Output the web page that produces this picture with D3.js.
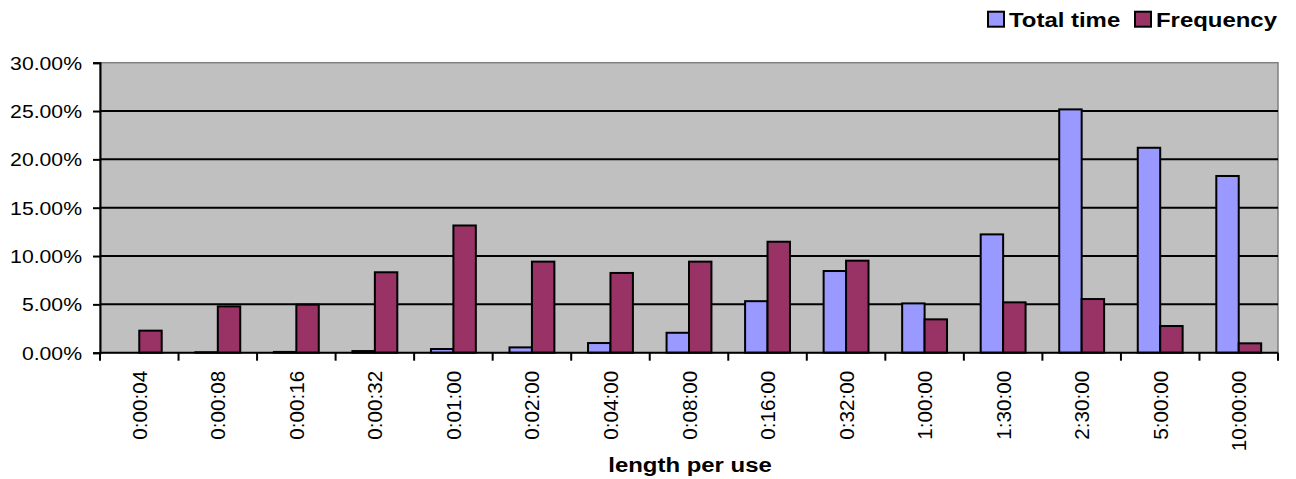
<!DOCTYPE html>
<html>
<head>
<meta charset="utf-8">
<script src="https://cdn.jsdelivr.net/npm/d3@7"></script>
<style>
  html, body { margin: 0; padding: 0; background: #ffffff; }
  svg { display: block; }
  text { font-family: Arial, "Liberation Sans", sans-serif; fill: #000; }
</style>
</head>
<body>
<svg id="chart" width="1296" height="479"></svg>
<script>
const categories = ["0:00:04","0:00:08","0:00:16","0:00:32","0:01:00","0:02:00","0:04:00","0:08:00","0:16:00","0:32:00","1:00:00","1:30:00","2:30:00","5:00:00","10:00:00"];
const seriesNames = ["Total time","Frequency"];
const totalTime = [0, 0.05, 0.08, 0.17, 0.38, 0.55, 1.0, 2.06, 5.33, 8.45, 5.1, 12.24, 25.17, 21.2, 18.28];
const frequency = [2.28, 4.79, 4.97, 8.32, 13.16, 9.42, 8.25, 9.42, 11.48, 9.52, 3.45, 5.21, 5.55, 2.76, 0.97];
const yTicks = [0, 5, 10, 15, 20, 25, 30];
const colors = ["#9999FF", "#993366"];
const xTitle = "length per use";

(function () {
const svg = d3.select("#chart");
const pLeft = 100, pRight = 1278, pTop = 62.7, pBottom = 352.7;
const sx = 1.14;

const x0 = d3.scaleBand().domain(categories).range([pLeft, pRight]).padding(0);
const bw = x0.bandwidth();
const x1 = d3.scaleBand().domain(seriesNames).range([bw * 1.5 / 7, bw * (1 - 1.5 / 7)]).padding(0);
const y = d3.scaleLinear().domain([0, 30]).range([pBottom, pTop]);

// plot area
svg.append("rect").attr("x", pLeft).attr("y", pTop).attr("width", pRight - pLeft).attr("height", pBottom - pTop)
  .attr("fill", "#C0C0C0").attr("stroke", "#808080").attr("stroke-width", 1.5);

// gridlines
svg.append("g").selectAll("line").data(yTicks.filter(d => d > 0 && d < 30)).join("line")
  .attr("x1", pLeft).attr("x2", pRight).attr("y1", d => y(d)).attr("y2", d => y(d))
  .attr("stroke", "#000").attr("stroke-width", 2);

// bars
const data = categories.map((c, i) => ({ c, vals: [ {s: seriesNames[0], v: totalTime[i]}, {s: seriesNames[1], v: frequency[i]} ] }));
const groups = svg.append("g").selectAll("g").data(data).join("g")
  .attr("transform", d => `translate(${x0(d.c)},0)`);
groups.selectAll("rect").data(d => d.vals).join("rect")
  .attr("x", d => x1(d.s)).attr("width", x1.bandwidth())
  .attr("y", d => y(d.v)).attr("height", d => y(0) - y(d.v))
  .attr("fill", (d, i) => colors[i]).attr("stroke", "#000").attr("stroke-width", 2);

// y axis
const yAxis = d3.axisLeft(y).tickValues(yTicks).tickFormat(d => d.toFixed(2) + "%").tickSize(7).tickPadding(0);
const yg = svg.append("g").attr("transform", `translate(${pLeft},0)`).call(yAxis);
yg.select(".domain").attr("stroke", "#000").attr("stroke-width", 2);
yg.selectAll(".tick line").attr("stroke", "#000").attr("stroke-width", 2);
yg.selectAll(".tick text").attr("x", null).attr("dy", null)
  .attr("font-size", 18.6).attr("text-anchor", "end").attr("dominant-baseline", "central")
  .attr("transform", `translate(-18,0) scale(${sx},1)`).attr("fill", "#000");

// x axis
const xAxis = d3.axisBottom(x0).tickSize(0).tickPadding(0);
const xg = svg.append("g").attr("transform", `translate(0,${pBottom})`).call(xAxis);
xg.select(".domain").remove();
xg.selectAll(".tick text").attr("y", null).attr("dy", null)
  .attr("font-size", 20.7).attr("text-anchor", "end").attr("dominant-baseline", "central")
  .attr("transform", "translate(0,18) rotate(-90)").attr("fill", "#000");
svg.append("line").attr("x1", pLeft).attr("x2", pRight).attr("y1", pBottom).attr("y2", pBottom)
  .attr("stroke", "#000").attr("stroke-width", 2);
const boundaries = categories.map(c => x0(c)).concat([pRight]);
svg.append("g").selectAll("line").data(boundaries).join("line")
  .attr("x1", d => d).attr("x2", d => d).attr("y1", pBottom).attr("y2", pBottom + 8)
  .attr("stroke", "#000").attr("stroke-width", 2);

// x title
svg.append("text").attr("transform", `translate(690,471.7) scale(${sx},1)`)
  .attr("text-anchor", "middle").attr("font-weight", "bold").attr("font-size", 21).text(xTitle);

// legend
const legendItems = [
  { name: seriesNames[0], color: colors[0], sq: 988, tx: 1009 },
  { name: seriesNames[1], color: colors[1], sq: 1135, tx: 1156 }
];
const lg = svg.append("g");
lg.selectAll("rect").data(legendItems).join("rect")
  .attr("x", d => d.sq).attr("y", 11.7).attr("width", 16).attr("height", 15)
  .attr("fill", d => d.color).attr("stroke", "#000").attr("stroke-width", 2);
lg.selectAll("text").data(legendItems).join("text")
  .attr("transform", d => `translate(${d.tx},26.7) scale(${sx},1)`)
  .attr("font-weight", "bold").attr("font-size", 21).text(d => d.name);
})();
</script>
</body>
</html>
